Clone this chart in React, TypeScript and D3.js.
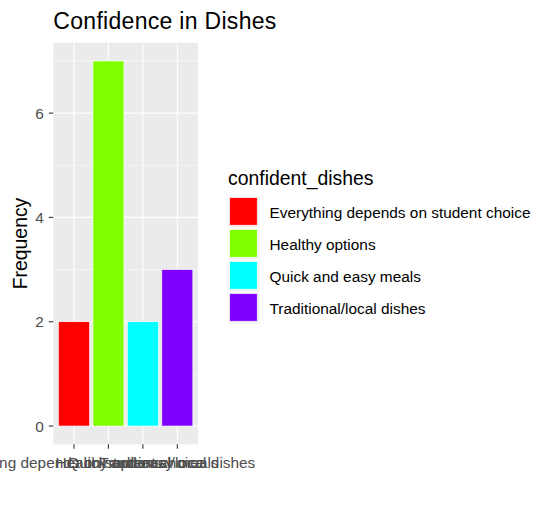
import React from "react";
import * as d3 from "d3";

const categories = [
  "Everything depends on student choice",
  "Healthy options",
  "Quick and easy meals",
  "Traditional/local dishes",
];
const frequencies = [2, 7, 2, 3];
const barColors = ["#FF0000", "#80FF00", "#00FFFF", "#8000FF"];
const yTicks = [0, 2, 4, 6];
const yMinor = [1, 3, 5, 7];
const titleText = "Confidence in Dishes";
const yTitle = "Frequency";
const legendTitle = "confident_dishes";

const W = 552;
const H = 506;
const panel = { left: 53.3, right: 198, top: 42.7, bottom: 444.3 };
const FONT = "'Liberation Sans', Arial, Helvetica, sans-serif";

export default function App() {
  const x = d3
    .scalePoint<string>()
    .domain(categories)
    .range([panel.left, panel.right])
    .padding(0.6);
  const unit = x.step();
  const xc = (c: string) => x(c) as number;
  const maxV = d3.max(frequencies) as number;
  const y = d3
    .scaleLinear()
    .domain([-0.05 * maxV, maxV * 1.05])
    .range([panel.bottom, panel.top]);
  const barW = unit * 0.9;

  const legX = 228;
  const legY0 = 196;
  const keySize = 32;

  return (
    <svg width={W} height={H} style={{ position: "absolute", left: 0, top: 0, background: "#fff" }}>
      <rect x={0} y={0} width={W} height={H} fill="#fff" />
      <text x={panel.left} y={28.5} fontFamily={FONT} fontSize={23} letterSpacing={0.3} fill="#000">
        {titleText}
      </text>
      <rect
        x={panel.left}
        y={panel.top}
        width={panel.right - panel.left}
        height={panel.bottom - panel.top}
        fill="#EBEBEB"
      />
      {yMinor.map((v) => (
        <line key={"mn" + v} x1={panel.left} x2={panel.right} y1={y(v)} y2={y(v)} stroke="#fff" strokeWidth={0.55} />
      ))}
      {yTicks.map((v) => (
        <line key={"mj" + v} x1={panel.left} x2={panel.right} y1={y(v)} y2={y(v)} stroke="#fff" strokeWidth={1.1} />
      ))}
      {categories.map((c) => (
        <line key={"vx" + c} x1={xc(c)} x2={xc(c)} y1={panel.top} y2={panel.bottom} stroke="#fff" strokeWidth={1.1} />
      ))}
      {categories.map((c, i) => (
        <rect
          key={"bar" + c}
          x={xc(c) - barW / 2}
          y={y(frequencies[i])}
          width={barW}
          height={y(0) - y(frequencies[i])}
          fill={barColors[i]}
          stroke="#fff"
          strokeWidth={0.6}
        />
      ))}
      {yTicks.map((v) => (
        <g key={"yt" + v}>
          <line x1={panel.left - 4.5} x2={panel.left} y1={y(v)} y2={y(v)} stroke="#333" strokeWidth={1.1} />
          <text
            x={panel.left - 9.5}
            y={y(v)}
            dy="0.36em"
            textAnchor="end"
            fontFamily={FONT}
            fontSize={15.4}
            fill="#4D4D4D"
          >
            {v}
          </text>
        </g>
      ))}
      {categories.map((c) => (
        <g key={"xt" + c}>
          <line x1={xc(c)} x2={xc(c)} y1={panel.bottom} y2={panel.bottom + 4.5} stroke="#333" strokeWidth={1.1} />
          <text x={xc(c)} y={467.5} textAnchor="middle" fontFamily={FONT} fontSize={15.4} fill="#4D4D4D">
            {c}
          </text>
        </g>
      ))}
      <text
        transform={`translate(27,${(panel.top + panel.bottom) / 2}) rotate(-90)`}
        textAnchor="middle"
        fontFamily={FONT}
        fontSize={19.4}
        fill="#000"
      >
        {yTitle}
      </text>
      <text x={legX} y={185} fontFamily={FONT} fontSize={19.4} fill="#000">
        {legendTitle}
      </text>
      {categories.map((c, i) => (
        <g key={"lg" + c}>
          <rect x={legX} y={legY0 + i * keySize} width={keySize} height={keySize} fill="#F2F2F2" stroke="#fff" strokeWidth={1} />
          <rect
            x={legX + 1.7}
            y={legY0 + i * keySize + 1.7}
            width={keySize - 4.5}
            height={keySize - 4.5}
            fill={barColors[i]}
            stroke="#fff"
            strokeWidth={0.6}
          />
          <text
            x={269.5}
            y={legY0 + i * keySize + keySize / 2}
            dy="0.36em"
            fontFamily={FONT}
            fontSize={15.4}
            fill="#000"
          >
            {c}
          </text>
        </g>
      ))}
    </svg>
  );
}
